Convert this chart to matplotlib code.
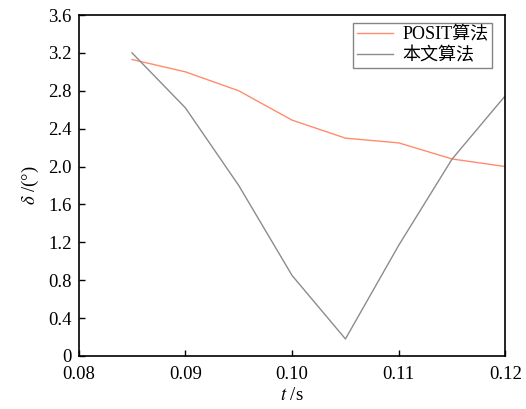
import matplotlib
matplotlib.use("Agg")
import matplotlib.pyplot as plt
import numpy as np

plt.rcParams["font.family"] = ["Liberation Serif", "Noto Sans CJK SC"]
plt.rcParams["mathtext.fontset"] = "stix"

t = [0.085, 0.090, 0.095, 0.100, 0.105, 0.110, 0.115, 0.120]
posit = [3.13, 3.00, 2.80, 2.49, 2.30, 2.25, 2.08, 2.00]
ours = [3.20, 2.62, 1.80, 0.85, 0.18, 1.17, 2.08, 2.75]

fig = plt.figure(figsize=(5.26, 4.09), dpi=100)
ax = fig.add_axes([0.1496, 0.1296, 0.8114, 0.8337])

ax.plot(t, posit, color="#ff8c6e", linewidth=1.0, label="POSIT算法")
ax.plot(t, ours, color="#8c8c8c", linewidth=1.0, label="本文算法")

ax.set_xlim(0.08, 0.12)
ax.set_ylim(0, 3.6)
ax.set_xticks([0.08, 0.09, 0.10, 0.11, 0.12])
ax.set_xticklabels(["0.08", "0.09", "0.10", "0.11", "0.12"])
ax.set_yticks(np.arange(0, 3.61, 0.4))
ax.set_yticklabels(["0"] + [f"{v:.1f}" for v in np.arange(0.4, 3.61, 0.4)])
ax.tick_params(direction="in", length=4, width=1.0, labelsize=13.5, pad=5)
ax.tick_params(axis="x", pad=7)
for s in ax.spines.values():
    s.set_linewidth(1.2)

ax.set_xlabel(r"$t$ /s", fontsize=13.5, labelpad=3)
ax.set_ylabel(r"$\delta$ /(°)", fontsize=13.5, labelpad=5)

leg = ax.legend(loc="upper right", bbox_to_anchor=(0.968, 0.977), fontsize=13,
                frameon=True, fancybox=False, borderaxespad=0, handlelength=2.0,
                labelspacing=0.2, borderpad=0.2, handletextpad=0.5)
leg.get_frame().set_edgecolor("#666666")
leg.get_frame().set_linewidth(1.0)

fig.savefig("out.png", dpi=100)
